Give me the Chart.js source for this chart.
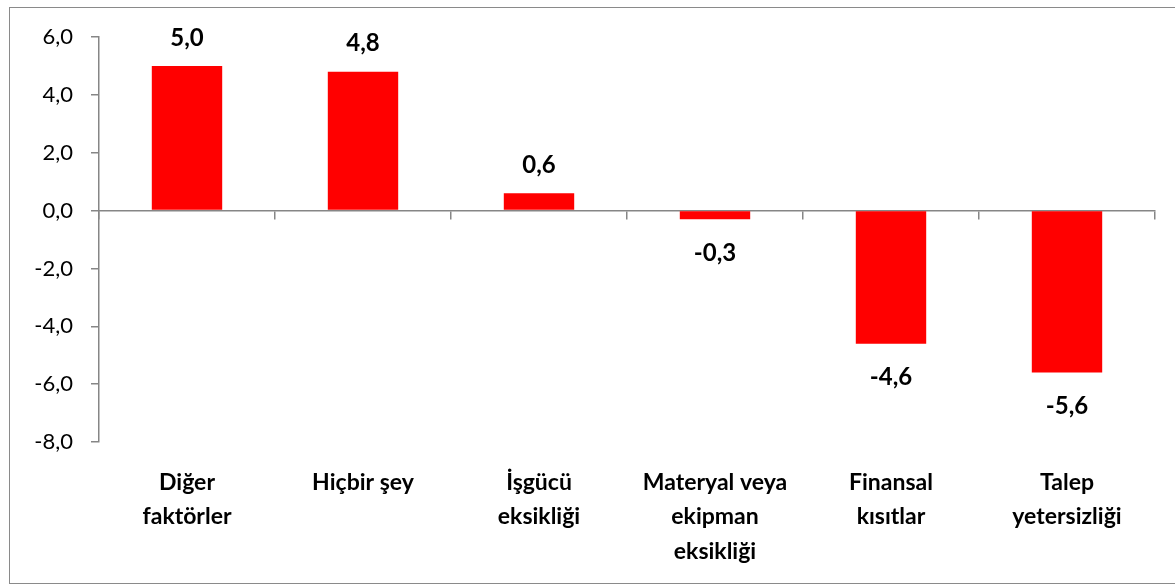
<!DOCTYPE html>
<html>
<head>
<meta charset="utf-8">
<script src="https://cdn.jsdelivr.net/npm/chart.js@4"></script>
<style>
  html, body { margin: 0; padding: 0; background: #fff; }
  #wrap { position: relative; width: 1175px; height: 586px; overflow: hidden; }
  #frame { position: absolute; left: 9px; top: 7px; width: 1200px; height: 577px; border: 1px solid #8a8a8a; box-sizing: border-box; }
  canvas { position: absolute; left: 0; top: 0; }
</style>
</head>
<body>
<div id="wrap">
  <div id="frame"></div>
  <canvas id="myChart" width="1175" height="586"></canvas>
</div>
<script>
const categories = [
  ['Diğer', 'faktörler'],
  ['Hiçbir şey'],
  ['İşgücü', 'eksikliği'],
  ['Materyal veya', 'ekipman', 'eksikliği'],
  ['Finansal', 'kısıtlar'],
  ['Talep', 'yetersizliği']
];
const values = [5.0, 4.8, 0.6, -0.3, -4.6, -5.6];
const yTicks = [6, 4, 2, 0, -2, -4, -6, -8];

const fontFamily = 'Lato, "Liberation Sans", sans-serif';
const axisGray = '#868686';
const fmt = v => v.toFixed(1).replace('.', ',');

// value labels over / under the bars
const barLabels = {
  id: 'barLabels',
  afterDatasetsDraw(chart) {
    const ctx = chart.ctx;
    const meta = chart.getDatasetMeta(0);
    ctx.save();
    ctx.font = 'bold 24px ' + fontFamily;
    ctx.fillStyle = '#000';
    ctx.textAlign = 'center';
    ctx.textBaseline = 'middle';
    meta.data.forEach((bar, i) => {
      const v = values[i];
      const y = v >= 0 ? bar.y - 28 : bar.y + 34;
      ctx.fillText(fmt(v), bar.x, y);
    });
    ctx.restore();
  }
};

var ctx = document.getElementById('myChart').getContext('2d');
var chart = new Chart(ctx, {
  type: 'bar',
  data: {
    labels: categories,
    datasets: [{
      data: values,
      backgroundColor: '#ff0000',
      borderWidth: 0,
      barPercentage: 0.4,
      categoryPercentage: 1.0
    }]
  },
  options: {
    responsive: false,
    animation: false,
    layout: { padding: { left: 0, right: 20, top: 37, bottom: 4 } },
    plugins: { legend: { display: false }, tooltip: { enabled: false } },
    scales: {
      x: {
        position: 'bottom',
        offset: true,
        grid: { display: false, drawTicks: false },
        border: { display: false },
        ticks: {
          color: '#000',
          font: { family: fontFamily, size: 23, weight: 'bold', lineHeight: 1.48 },
          padding: 24,
          maxRotation: 0,
          autoSkip: false
        },
        afterFit: s => { s.height = 140; }
      },
      x2: {
        type: 'category',
        labels: categories,
        position: { y: 0 },
        offset: true,
        grid: { offset: true, drawOnChartArea: false, drawTicks: true, tickLength: 8, color: axisGray, lineWidth: 1.5 },
        border: { display: true, color: axisGray, width: 1.5 },
        ticks: { display: false }
      },
      y: {
        min: -8,
        max: 6,
        afterBuildTicks: s => { s.ticks = yTicks.map(v => ({ value: v })); },
        grid: { drawOnChartArea: false, drawTicks: true, tickLength: 8, color: axisGray, lineWidth: 1.5 },
        border: { display: true, color: axisGray, width: 1.5 },
        ticks: {
          color: '#000',
          font: { family: fontFamily, size: 22 },
          padding: 18,
          callback: v => fmt(v)
        },
        afterFit: s => { s.width = 99; }
      }
    }
  },
  plugins: [barLabels]
});
</script>
</body>
</html>
